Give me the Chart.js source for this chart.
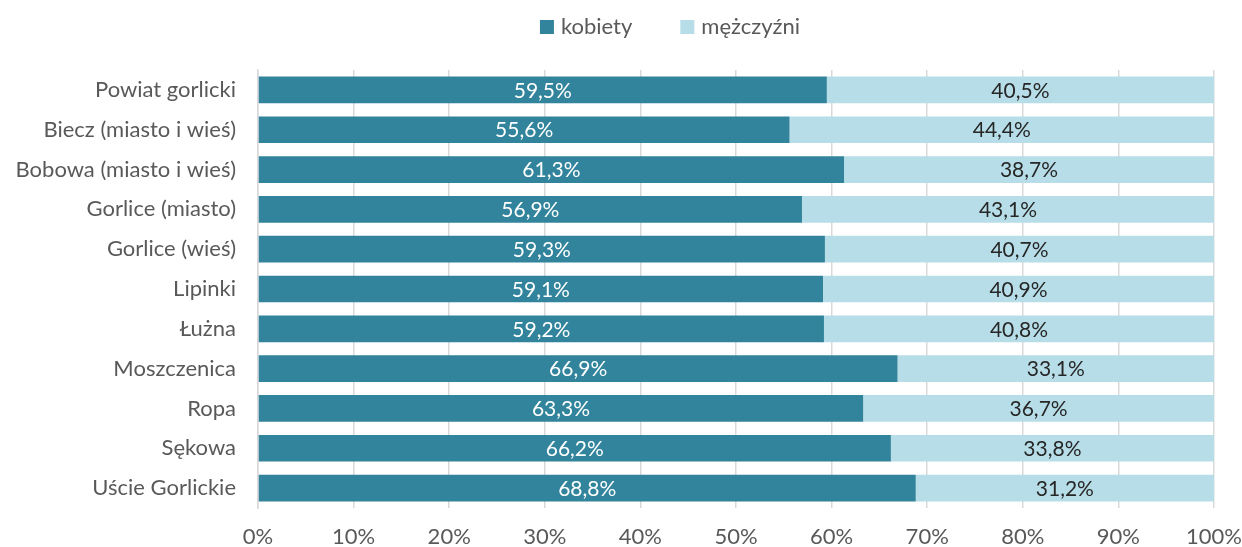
<!DOCTYPE html>
<html>
<head>
<meta charset="utf-8">
<script src="https://cdn.jsdelivr.net/npm/chart.js@4/dist/chart.umd.min.js"></script>
<style>
  html, body { margin: 0; padding: 0; background: #fff; }
  #wrap { width: 1242px; height: 547px; }
</style>
</head>
<body>
<div id="wrap"><canvas id="chart"></canvas></div>
<script>
const categories = ['Powiat gorlicki', 'Biecz (miasto i wieś)', 'Bobowa (miasto i wieś)', 'Gorlice (miasto)',
  'Gorlice (wieś)', 'Lipinki', 'Łużna', 'Moszczenica', 'Ropa', 'Sękowa', 'Uście Gorlickie'];
const kobiety = [59.5, 55.6, 61.3, 56.9, 59.3, 59.1, 59.2, 66.9, 63.3, 66.2, 68.8];
const mezczyzni = [40.5, 44.4, 38.7, 43.1, 40.7, 40.9, 40.8, 33.1, 36.7, 33.8, 31.2];
const seriesNames = ['kobiety', 'mężczyźni'];
const seriesColors = ['#31849B', '#B7DEE8'];

const FONT = 'Lato, "Open Sans", sans-serif';

// etykiety danych w środku segmentów
const barLabels = {
  id: 'barLabels',
  afterDatasetsDraw(chart) {
    const ctx = chart.ctx;
    ctx.save();
    ctx.font = '21px ' + FONT;
    ctx.textAlign = 'center';
    ctx.textBaseline = 'middle';
    chart.data.datasets.forEach((ds, di) => {
      const meta = chart.getDatasetMeta(di);
      meta.data.forEach((bar, i) => {
        const x = (bar.x + bar.base) / 2;
        ctx.fillStyle = di === 0 ? '#ffffff' : '#262626';
        ctx.fillText(ds.data[i].toFixed(1).replace('.', ',') + '%', x, bar.y + 1);
      });
    });
    ctx.restore();
  }
};

// legenda u góry (własna, żeby ustawić odstępy jak w oryginale)
const topLegend = {
  id: 'topLegend',
  afterDraw(chart) {
    const ctx = chart.ctx;
    ctx.save();
    ctx.font = '22px ' + FONT;
    ctx.textBaseline = 'middle';
    const box = 14, gapText = 7, gapItem = 48, y = 27;
    const widths = seriesNames.map(n => box + gapText + ctx.measureText(n).width);
    const total = widths.reduce((a, b) => a + b, 0) + gapItem * (widths.length - 1);
    let x = 670 - total / 2;
    seriesNames.forEach((n, i) => {
      ctx.fillStyle = seriesColors[i];
      ctx.fillRect(x, y - box / 2, box, box);
      ctx.fillStyle = '#595959';
      ctx.fillText(n, x + box + gapText, y);
      x += widths[i] + gapItem;
    });
    ctx.restore();
  }
};

new Chart(document.getElementById('chart'), {
  type: 'bar',
  data: {
    labels: categories,
    datasets: [
      { label: seriesNames[0], data: kobiety, backgroundColor: seriesColors[0] },
      { label: seriesNames[1], data: mezczyzni, backgroundColor: seriesColors[1] }
    ]
  },
  options: {
    indexAxis: 'y',
    responsive: true,
    maintainAspectRatio: false,
    animation: false,
    layout: { padding: { top: 70, right: 28, bottom: 0, left: 0 } },
    datasets: { bar: { barPercentage: 0.67, categoryPercentage: 1 } },
    plugins: {
      legend: { display: false },
      tooltip: { enabled: false }
    },
    scales: {
      x: {
        stacked: true,
        min: 0,
        max: 100,
        afterFit: s => { s.height = 39; s.paddingLeft = 0; s.paddingRight = 0; },
        ticks: {
          stepSize: 10,
          color: '#595959',
          font: { family: FONT, size: 22 },
          padding: 16,
          callback: v => v + '%'
        },
        grid: { color: '#D9D9D9', lineWidth: 1.5, tickLength: 0 },
        border: { display: false }
      },
      y: {
        stacked: true,
        afterFit: s => { s.width = 258; },
        ticks: {
          color: '#595959',
          font: { family: FONT, size: 22 },
          padding: 22
        },
        grid: { display: false, drawTicks: false },
        border: { display: true, color: '#D9D9D9', width: 1.5 }
      }
    }
  },
  plugins: [barLabels, topLegend]
});
</script>
</body>
</html>
